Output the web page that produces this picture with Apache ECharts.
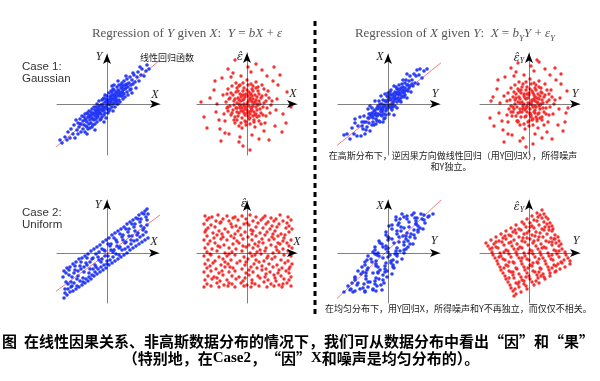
<!DOCTYPE html>
<html><head><meta charset="utf-8">
<script src="https://cdn.jsdelivr.net/npm/echarts@6.0.0/dist/echarts.min.js"></script>
<style>html,body{margin:0;padding:0;background:#fff}#c{width:600px;height:381px}</style>
</head><body><div id="c"></div>
<script>
// ---------- DATA (units: axis units) ----------
// Case 1, Gaussian: Y vs X
const gaussYonX = [
[-4.5,-3.9],[-4.2,-3.3],[-4.0,-3.6],[-3.9,-2.8],[-3.7,-3.4],[-3.6,-2.5],[-3.4,-3.0],[-3.3,-2.1],[-3.2,-3.4],[-3.0,-2.6],[-2.9,-1.9],[-2.9,-3.0],[-2.8,-2.3],[-2.7,-1.5],[-2.6,-2.8],[-2.6,-2.0],[-2.5,-1.2],[-2.4,-2.5],[-2.4,-1.7],[-2.3,-2.1],[-2.2,-1.0],[-2.2,-2.8],[-2.1,-1.5],[-2.1,-2.2],[-2.0,-1.8],[-2.0,-0.9],[-1.9,-2.5],[-1.9,-1.3],[-1.8,-2.0],[-1.8,-0.7],[-1.7,-1.6],[-1.7,-2.4],[-1.6,-1.1],[-1.6,-1.9],[-1.5,-0.5],[-1.5,-1.4],[-1.4,-2.1],[-1.4,-0.9],[-1.3,-1.6],[-1.3,-0.3],[-1.2,-1.2],[-1.2,-2.0],[-1.1,-0.7],[-1.1,-1.5],[-1.0,0.0],[-1.0,-1.0],[-1.0,-1.8],[-0.9,-0.4],[-0.9,-1.3],[-0.8,-0.8],[-0.8,0.3],[-0.7,-1.6],[-0.7,-0.2],[-0.6,-1.0],[-0.6,-0.5],[-0.5,0.4],[-0.5,-1.3],[-0.4,-0.7],[-0.4,0.0],[-0.3,-1.1],[-0.3,0.6],[-0.2,-0.3],[-0.2,-0.9],[-0.1,0.2],[-0.1,-1.4],[0.0,-0.5],[0.0,0.8],[0.0,-0.1],[0.1,0.4],[0.1,-0.9],[0.2,1.1],[0.2,0.0],[0.3,-0.5],[0.3,0.7],[0.4,0.2],[0.4,1.3],[0.5,-0.3],[0.5,0.9],[0.6,0.4],[0.6,-0.7],[0.7,1.4],[0.7,0.1],[0.8,0.8],[0.8,-0.3],[0.9,1.2],[0.9,0.5],[1.0,1.7],[1.0,0.0],[1.1,0.9],[1.1,1.4],[1.2,0.4],[1.2,1.9],[1.3,1.1],[1.3,0.2],[1.4,1.6],[1.4,0.8],[1.5,2.1],[1.5,1.2],[1.6,0.5],[1.6,1.8],[1.7,1.0],[1.7,2.3],[1.8,1.5],[1.8,0.7],[1.9,1.9],[2.0,1.2],[2.0,2.5],[2.1,1.7],[2.1,0.9],[2.2,2.1],[2.3,1.4],[2.3,2.7],[2.4,1.9],[2.5,2.4],[2.5,1.1],[2.6,2.0],[2.7,2.9],[2.8,2.2],[2.9,1.6],[3.0,2.7],[3.1,3.2],[3.2,2.3],[3.4,2.9],[3.5,3.5],[3.7,2.8],[3.9,3.3],[4.0,3.9],[4.2,3.5],[-3.1,-1.6],[2.6,3.1],[-1.2,-2.6],[1.1,2.3],[-0.3,-1.8],[0.5,1.8],[-2.0,-3.0],[3.3,3.7],[-4.7,-3.6],[1.9,2.8],
[-1.3,-1.0],[-0.8,-0.6],[-0.4,-0.3],[0.1,0.1],[0.5,0.5],[0.9,0.7],[1.3,1.0],[-1.0,-0.6],[-0.5,-0.6],[0.2,0.4],[0.6,0.9],[1.0,1.1],[-1.5,-1.0],[-0.2,0.2],[0.3,0.1],[0.8,0.4],[1.6,1.4],[-0.9,-1.1],[-0.1,-0.3],[0.4,0.6],[1.2,0.8],[-1.7,-1.2],[-0.6,-0.1],[0.0,0.3],[0.7,0.6],[1.5,1.6],[-2.2,-1.6],[-1.1,-0.9],[0.3,-0.1],[1.9,1.6],
[-1.8,-1.3],[-1.6,-0.8],[-1.4,-1.5],[-1.2,-0.6],[-1.0,-1.3],[-0.8,-0.2],[-0.7,-0.9],[-0.5,-0.1],[-0.3,-0.6],[-0.1,0.5],[0.1,-0.5],[0.3,0.3],[0.5,1.2],[0.6,0.0],[0.8,1.0],[1.0,0.3],[1.2,1.3],[1.4,1.9],[1.6,1.1],[1.8,1.9],[-2.3,-1.3],[-2.0,-2.3],[-1.5,-2.3],[-1.1,-0.3],[-0.6,-1.5],[-0.2,0.9],[0.2,-0.7],[0.7,1.9],[1.1,0.0],[2.0,2.0],[-0.9,-0.9],[-0.3,-0.4],[0.4,0.8],[0.9,0.2],[1.5,0.8],[-1.9,-1.0],[-0.4,0.5],[0.6,1.5],[2.4,1.5],[-2.7,-2.0]
];
// Case 1, Gaussian: residual vs X
const gaussResOnX = [
[0.1,0.2],[-0.3,0.5],[0.6,-0.2],[-0.7,-0.4],[0.2,-0.8],[-0.1,-0.3],[0.9,0.4],[-0.5,0.9],[0.4,1.0],[-1.0,0.1],[0.7,-0.8],[-0.2,-1.1],[1.1,-0.1],[-0.8,-0.9],[0.3,0.6],[-0.6,0.3],[0.0,-0.6],[0.5,0.2],[-0.4,-0.7],[0.8,0.9],[-0.9,0.6],[0.2,1.2],[-1.1,-0.4],[1.0,-0.6],[-0.3,0.0],[0.4,-0.4],[-0.6,-0.1],[0.1,0.8],[0.6,0.5],[-0.2,-0.5],[1.2,0.3],[-0.7,1.0],[0.3,-1.0],[-1.0,-0.8],[0.9,-0.3],[-0.4,0.4],[0.0,0.0],[0.5,-0.6],[-0.8,0.0],[0.7,0.1],[-0.1,1.0],[0.2,-0.2],[-0.5,-0.4],[1.0,0.7],[-1.2,0.5],[0.4,0.4],[-0.3,-0.9],[0.8,-1.1],[-0.6,0.7],[0.1,-1.2],
[1.5,0.8],[-1.6,1.1],[2.0,-0.4],[-1.9,-0.7],[0.6,1.8],[-0.4,2.1],[1.2,-1.7],[-1.3,-1.6],[2.2,0.6],[-2.1,0.2],[0.3,-2.0],[-0.8,-2.2],[1.7,1.5],[-1.5,1.8],[1.9,-1.2],[-2.3,-1.0],[0.9,2.2],[-1.0,1.6],[1.4,-0.9],[-1.7,-0.2],[2.4,-0.1],[-0.2,-1.7],[1.1,1.3],[-1.2,-1.3],[0.0,2.4],[1.6,-0.3],[-2.0,1.0],[0.7,-1.6],[-0.6,-1.9],[2.1,1.3],[-1.8,0.5],[1.3,0.0],[-1.4,-0.6],[0.5,1.5],[-0.9,1.3],[1.8,-1.9],[-2.2,-1.7],[0.8,-2.3],[-0.3,1.6],[1.5,1.9],[-1.1,2.1],[2.3,-0.9],[-2.4,0.9],[0.2,-1.5],[-0.5,-2.4],[1.0,-1.3],[-1.6,-1.1],[1.9,0.3],[-1.3,0.3],[0.4,2.0],[-0.7,1.9],[1.2,1.0],[-2.0,-0.4],[0.6,-1.2],[-1.0,-1.6],[2.5,0.3],[-0.1,-2.1],[1.4,-2.0],[-1.9,1.5],[0.9,1.6],
[3.0,0.5],[-3.1,-0.8],[2.6,2.3],[-2.5,2.6],[2.8,-2.2],[-2.7,-2.5],[0.4,3.2],[-0.7,-3.3],[3.6,-1.0],[-3.7,0.6],[1.5,3.4],[-1.4,3.1],[1.2,-3.5],[-1.8,-3.0],[4.0,1.2],[-4.3,-1.3],[0.9,4.0],[-0.4,-4.2],[3.3,2.9],[-3.2,2.3],[2.2,-3.6],[-2.6,-3.7],[4.4,-0.3],[-4.6,0.2],[1.0,5.3],[-1.2,4.4],[0.3,-4.6],[2.0,2.8],[-2.2,-2.9],[3.5,-2.8],[-3.3,1.4],[2.7,3.7],[-1.9,3.5],[3.9,-1.9],[-4.0,-2.4],[0.1,3.7],[-0.8,-3.8],[2.9,-0.6],[-3.0,0.0],[1.7,-2.7],[-1.6,2.7],[3.1,1.9],[-2.8,-1.6],[0.5,-3.1],[-0.6,2.8],
[0.5,0.8],[-0.8,0.4],[1.3,-0.5],[-1.3,-0.1],[0.0,1.4],[0.3,-1.4],[-0.5,-1.4],[1.4,0.6],[-1.4,0.9],[0.9,-1.0],[-0.9,-1.2],[0.6,1.3],[-0.2,0.7],[0.2,0.4],[-0.6,-0.7],[1.6,-1.1],[-1.7,0.6],[0.8,0.2],[-0.3,-0.2],[0.0,-0.9],[1.1,1.7],[-1.1,1.2],[1.7,0.1],[-1.5,-0.9],[0.4,-0.7],[-0.4,1.3],[0.7,-1.8],[-0.8,1.8],[1.9,0.9],[-1.9,-0.3],[0.1,1.9],[-0.1,-1.8],[1.2,-1.2],[-1.2,-1.9],[0.5,-0.3],[-0.7,-0.2],[0.3,1.0],[-0.3,0.9],[1.0,0.0],[-1.0,-0.4]
];
// Case 1, Gaussian: X vs Y (reverse direction)
const gaussXonY = [
[-4.1,-3.0],[-3.8,-3.5],[-3.6,-2.4],[-3.4,-3.0],[-3.3,-1.9],[-3.1,-3.2],[-3.0,-2.2],[-2.8,-1.3],[-2.7,-3.2],[-2.6,-1.8],[-2.5,-2.5],[-2.4,-1.2],[-2.3,-3.0],[-2.2,-1.8],[-2.1,-2.3],[-2.0,-0.5],[-1.9,-1.9],[-1.9,-1.0],[-1.8,-2.7],[-1.7,-1.2],[-1.6,-2.1],[-1.6,-0.4],[-1.5,-1.4],[-1.4,-0.7],[-1.4,-2.1],[-1.3,0.3],[-1.2,-1.5],[-1.2,-0.9],[-1.1,-1.7],[-1.0,-0.2],[-1.0,-1.1],[-0.9,0.3],[-0.8,-1.8],[-0.8,-0.3],[-0.7,-1.1],[-0.6,0.0],[-0.6,-0.5],[-0.5,-1.8],[-0.5,0.4],[-0.4,-1.0],[-0.3,-0.1],[-0.3,1.0],[-0.2,-1.1],[-0.2,0.3],[-0.1,-0.5],[0.0,0.7],[0.0,-0.2],[0.1,-1.0],[0.1,0.4],[0.2,1.2],[0.3,-0.4],[0.3,0.4],[0.4,-0.6],[0.5,1.0],[0.5,0.1],[0.6,1.8],[0.7,-0.2],[0.7,0.8],[0.8,0.5],[0.9,1.5],[0.9,-0.4],[1.0,1.2],[1.1,0.4],[1.1,1.9],[1.2,1.0],[1.3,0.2],[1.3,1.6],[1.4,0.8],[1.5,2.4],[1.5,1.4],[1.6,0.7],[1.7,2.1],[1.7,1.3],[1.8,2.4],[1.9,0.6],[1.9,1.9],[2.0,1.3],[2.1,2.3],[2.2,1.8],[2.2,2.8],[2.3,1.2],[2.4,2.4],[2.5,1.8],[2.6,3.0],[2.7,2.1],[2.8,2.8],[3.0,2.0],[3.1,2.9],[3.2,3.5],[3.4,2.6],[3.6,3.3],[3.9,3.5],
[-1.3,-0.6],[-0.9,-1.0],[-0.4,-0.2],[0.2,0.6],[0.6,0.3],[1.0,0.6],[-0.7,-0.5],[-0.1,0.2],[0.4,0.0],[0.9,1.0],[-1.6,-1.2],[-0.2,-0.7],[0.3,0.9],[1.4,1.2],[-1.1,-1.2],[-0.5,-0.3],[0.0,0.4],[0.7,0.5],[1.2,1.4],[-1.9,-1.4],[-0.6,-0.8],[0.1,-0.3],[0.5,0.6],[1.7,1.6],[-2.4,-1.8],[-0.3,0.3],[0.8,1.1],[-1.0,-0.5],[1.1,0.9],[2.0,1.9],
[-1.8,-0.2],[1.9,3.0],[0.6,-1.1],[-0.7,0.8],[2.9,3.4],[-3.3,-1.5],[-4.4,-3.1],
[-1.8,-1.0],[-1.5,-1.8],[-1.3,-1.1],[-1.1,-0.4],[-0.9,-1.7],[-0.7,-0.7],[-0.5,-0.6],[-0.3,-1.4],[-0.1,0.8],[0.1,-0.1],[0.3,1.4],[0.5,-0.3],[0.7,1.2],[0.9,0.2],[1.1,1.1],[1.3,0.6],[1.5,1.7],[1.7,0.9],[1.9,1.4],[2.1,1.6],[-2.2,-2.6],[-2.0,-1.4],[-1.6,-0.9],[-1.2,-2.0],[-0.8,0.0],[-0.4,-1.5],[0.0,1.1],[0.4,-0.2],[0.8,1.7],[1.2,0.3],[-1.4,-1.0],[-0.6,-1.2],[0.2,0.9],[1.0,1.5],[1.6,1.1],[-2.6,-2.2],[2.4,2.0],[-0.2,-0.4],[0.6,0.8],[1.4,2.0]
];
// Case 1, Gaussian: residual vs Y (reverse direction)
const gaussResOnY = [
[0.2,0.1],[-0.4,0.6],[0.7,-0.3],[-0.6,-0.5],[0.1,-0.9],[-0.2,-0.2],[1.0,0.5],[-0.5,1.0],[0.5,0.9],[-1.1,0.2],[0.6,-0.9],[-0.3,-1.2],[1.2,0.0],[-0.9,-0.8],[0.3,0.4],[-0.7,0.2],[0.1,-0.5],[0.6,0.3],[-0.4,-0.6],[0.9,1.0],[-1.0,0.7],[0.3,1.3],[-1.2,-0.3],[1.1,-0.5],[-0.1,0.1],[0.4,-0.3],[-0.5,0.0],[0.0,0.9],[0.8,0.6],[-0.3,-0.4],[1.3,0.4],[-0.8,1.1],[0.2,-1.1],[-1.1,-0.9],[1.0,-0.2],[-0.3,0.5],[0.1,0.0],[0.6,-0.6],[-0.9,0.1],[0.8,0.2],[0.0,1.1],[0.3,-0.1],[-0.6,-0.3],[1.1,0.8],[-1.3,0.6],[0.5,0.5],[-0.2,-0.8],[0.9,-1.0],[-0.5,0.8],[0.2,-1.3],
[1.6,0.9],[-1.5,1.2],[2.1,-0.3],[-1.8,-0.8],[0.7,1.9],[-0.3,2.2],[1.3,-1.6],[-1.2,-1.7],[2.3,0.7],[-2.2,0.3],[0.4,-2.1],[-0.9,-2.1],[1.8,1.4],[-1.4,1.9],[2.0,-1.1],[-2.2,-1.1],[1.0,2.3],[-1.1,1.5],[1.5,-0.8],[-1.6,-0.3],[2.5,0.0],[-0.1,-1.8],[1.2,1.2],[-1.3,-1.2],[0.1,2.5],[1.7,-0.4],[-2.1,1.1],[0.8,-1.5],[-0.5,-2.0],[2.2,1.4],[-1.9,0.4],[1.4,0.1],[-1.5,-0.5],[0.6,1.6],[-0.8,1.4],[1.9,-1.8],[-2.1,-1.8],[0.9,-2.4],[-0.2,1.7],[1.6,2.0],[-1.0,2.2],[2.4,-1.0],[-2.5,0.8],[0.3,-1.6],[-0.4,-2.5],[1.1,-1.4],[-1.7,-1.2],[2.0,0.4],[-1.4,0.4],[0.5,2.1],[-0.6,2.0],[1.3,1.1],[-2.0,-0.5],[0.7,-1.3],[-1.1,-1.7],[2.6,0.4],[0.0,-2.2],[1.5,-2.1],[-1.8,1.6],[1.0,1.7],
[3.1,0.6],[-3.0,-0.9],[2.7,2.4],[-2.4,2.7],[2.9,-2.1],[-2.6,-2.6],[0.5,3.3],[-0.6,-3.4],[3.7,-0.9],[-3.6,0.7],[1.6,3.5],[-1.3,3.2],[1.3,-3.4],[-1.7,-3.1],[3.8,1.3],[-3.9,-1.4],[1.0,4.2],[-0.3,-4.3],[3.2,3.0],[-3.1,2.4],[2.3,-3.5],[-2.5,-3.8],[3.9,-0.4],[-3.8,0.3],[0.8,4.4],[-1.1,4.1],[0.4,-4.0],[2.1,2.9],[-2.1,-3.0],[3.4,-2.7],[-3.2,1.5],[2.6,3.6],[-1.8,3.6],[3.6,-1.8],[-3.5,-2.2],[0.2,3.8],[-0.9,-3.7],[3.0,-0.5],[-2.9,0.1],[1.8,-2.8],[-1.5,2.8],[3.2,2.0],[-2.7,-1.7],[0.6,-3.0],[-0.5,2.9],
[0.6,0.7],[-0.9,0.5],[1.4,-0.4],[-1.4,0.0],[0.1,1.5],[0.4,-1.5],[-0.4,-1.3],[1.5,0.7],[-1.3,1.0],[1.0,-0.9],[-0.8,-1.3],[0.7,1.4],[-0.1,0.6],[0.3,0.3],[-0.7,-0.8],[1.7,-1.0],[-1.6,0.7],[0.9,0.1],[-0.2,-0.3],[0.1,-1.0],[1.2,1.6],[-1.0,1.3],[1.8,0.2],[-1.6,-0.8],[0.5,-0.8],[-0.3,1.4],[0.8,-1.7],[-0.7,1.7],[2.0,1.0],[-1.8,-0.2],[0.2,2.0],[0.0,-1.7],[1.3,-1.3],[-1.1,-1.8],[0.6,-0.2],[-0.6,-0.1],[0.4,1.1],[-0.2,1.0],[1.1,-0.1],[-0.9,-0.5]
];
// Case 2, Uniform: Y vs X
const unifYonX = [
[-4.3,-4.5],[-4.2,-3.6],[-4.4,-2.4],[-4.3,-1.8],[-4.0,-4.2],[-3.9,-3.1],[-4.1,-2.0],[-4.0,-1.5],[-3.7,-3.9],[-3.6,-2.9],[-3.8,-2.2],[-3.7,-1.4],[-3.4,-3.8],[-3.5,-3.3],[-3.3,-2.0],[-3.4,-1.1],[-3.1,-3.6],[-3.0,-2.6],[-3.2,-1.7],[-3.1,-0.9],[-2.8,-3.4],[-2.9,-2.3],[-2.7,-1.3],[-2.8,-0.6],[-2.5,-3.2],[-2.4,-2.5],[-2.6,-1.6],[-2.5,-0.5],[-2.2,-3.0],[-2.3,-1.9],[-2.1,-1.0],[-2.2,-0.3],[-1.9,-2.8],[-1.8,-2.0],[-2.0,-1.2],[-1.9,-0.1],[-1.6,-2.6],[-1.7,-1.6],[-1.5,-0.6],[-1.6,0.2],[-1.3,-2.3],[-1.2,-1.2],[-1.4,-0.5],[-1.3,0.4],[-1.0,-2.1],[-1.1,-1.4],[-0.9,-0.4],[-1.0,0.6],[-0.7,-1.9],[-0.6,-0.9],[-0.8,0.1],[-0.7,0.8],[-0.4,-1.7],[-0.5,-0.6],[-0.3,0.3],[-0.4,1.1],[-0.1,-1.5],[0.0,-0.8],[-0.2,0.2],[-0.1,1.3],[0.2,-1.2],[0.1,-0.3],[0.3,0.7],[0.2,1.5],[0.5,-1.0],[0.6,0.1],[0.4,0.9],[0.5,1.8],[0.8,-0.8],[0.7,0.3],[0.9,1.3],[0.8,2.0],[1.1,-0.6],[1.2,0.5],[1.0,1.1],[1.1,2.2],[1.4,-0.4],[1.3,0.6],[1.5,1.6],[1.4,2.4],[1.7,-0.2],[1.8,1.0],[1.6,1.8],[1.7,2.6],[2.0,0.0],[1.9,1.1],[2.1,2.1],[2.0,2.9],[2.3,0.3],[2.4,1.3],[2.2,2.4],[2.3,3.1],[2.6,0.5],[2.5,1.7],[2.7,2.6],[2.6,3.3],[2.9,0.7],[3.0,1.8],[2.8,2.9],[2.9,3.5],[3.2,0.9],[3.1,2.0],[3.3,3.1],[3.2,3.8],[3.5,1.1],[3.6,2.3],[3.4,3.4],[3.5,4.0],[3.8,1.3],[3.7,2.5],[3.9,3.6],[3.8,4.2],[4.1,1.5],[4.0,2.8],[4.1,3.9],[4.0,4.4],
[-4.2,-4.0],[-4.1,-2.9],[-3.9,-3.6],[-3.8,-1.7],[-3.6,-3.4],[-3.5,-2.4],[-3.3,-3.0],[-3.2,-1.3],[-3.0,-3.3],[-2.9,-1.8],[-2.7,-2.8],[-2.6,-0.9],[-2.4,-2.9],[-2.3,-1.4],[-2.1,-2.6],[-2.0,-0.5],[-1.8,-2.4],[-1.7,-0.9],[-1.5,-2.2],[-1.4,-1.6],[-1.2,-1.9],[-1.1,-0.1],[-0.9,-1.6],[-0.8,-0.7],[-0.6,-1.4],[-0.5,0.4],[-0.3,-1.2],[-0.2,-0.3],[0.0,-1.1],[0.1,0.9],[0.3,-0.7],[0.4,0.3],[0.6,-0.4],[0.7,1.5],[0.9,-0.1],[1.0,0.7],[1.2,-0.2],[1.3,1.9],[1.5,0.3],[1.6,1.3],[1.8,0.4],[1.9,2.4],[2.1,0.6],[2.2,1.7],[2.4,0.9],[2.5,2.9],[2.7,1.2],[2.8,2.2],[3.0,1.3],[3.1,3.4],[3.3,1.6],[3.4,2.7],[3.6,1.8],[3.7,3.9],[3.9,2.1],[4.0,3.3]
];
// Case 2, Uniform: residual vs X
const unifResOnX = [
[-4.2,3.7],[-3.5,3.6],[-2.9,3.8],[-2.0,3.7],[-1.4,3.5],[-0.5,3.7],[0.3,3.8],[0.9,3.6],[1.8,3.7],[2.4,3.5],[3.3,3.8],[4.1,3.6],
[-4.0,3.3],[-3.1,3.2],[-2.4,3.4],[-1.8,3.2],[-0.9,3.3],[-0.1,3.4],[0.6,3.2],[1.4,3.3],[2.1,3.1],[2.9,3.4],[3.6,3.2],[4.4,3.3],
[-4.3,2.9],[-3.6,2.8],[-2.7,3.0],[-1.6,2.9],[-1.1,2.7],[-0.3,2.9],[0.2,2.8],[1.1,3.0],[1.9,2.9],[2.5,2.7],[3.2,2.9],[4.0,3.0],
[-3.9,2.5],[-3.2,2.6],[-2.2,2.4],[-1.5,2.6],[-0.7,2.5],[0.4,2.3],[0.9,2.6],[1.6,2.5],[2.3,2.4],[3.0,2.6],[3.9,2.5],[4.5,2.4],
[-4.2,2.1],[-3.4,2.0],[-2.8,2.2],[-1.9,2.1],[-1.2,1.9],[-0.2,2.1],[0.6,2.2],[1.3,2.0],[2.0,2.1],[2.8,2.2],[3.4,1.9],[4.2,2.1],
[-4.0,1.7],[-3.0,1.8],[-2.4,1.6],[-1.6,1.7],[-0.6,1.8],[0.1,1.6],[0.9,1.7],[1.8,1.8],[2.5,1.6],[3.1,1.7],[3.8,1.8],
[-4.3,1.3],[-3.7,1.2],[-2.6,1.4],[-2.0,1.3],[-1.0,1.2],[-0.4,1.4],[0.5,1.3],[1.2,1.1],[2.2,1.3],[2.7,1.4],[3.6,1.2],[4.4,1.3],
[-3.9,0.9],[-3.2,1.0],[-2.3,0.8],[-1.4,0.9],[-0.8,1.0],[0.2,0.8],[0.8,0.9],[1.6,1.0],[2.4,0.8],[3.3,0.9],[4.0,1.0],
[-4.2,0.5],[-3.5,0.4],[-2.7,0.6],[-1.8,0.5],[-1.1,0.4],[-0.1,0.6],[0.6,0.5],[1.3,0.3],[1.9,0.5],[2.9,0.6],[3.6,0.4],[4.5,0.5],
[-4.0,0.1],[-3.0,0.2],[-2.2,0.0],[-1.5,0.1],[-0.5,0.2],[0.3,0.0],[1.0,0.1],[1.8,0.2],[2.6,0.0],[3.2,0.1],[4.1,0.2],
[-4.3,-0.3],[-3.6,-0.2],[-2.8,-0.4],[-2.0,-0.3],[-1.2,-0.2],[-0.3,-0.4],[0.5,-0.3],[1.4,-0.1],[2.1,-0.3],[2.8,-0.4],[3.7,-0.2],[4.4,-0.3],
[-3.9,-0.7],[-3.2,-0.8],[-2.4,-0.6],[-1.6,-0.7],[-0.7,-0.8],[0.1,-0.6],[0.9,-0.7],[1.7,-0.8],[2.5,-0.6],[3.4,-0.7],[4.1,-0.8],
[-4.2,-1.1],[-3.4,-1.0],[-2.6,-1.2],[-1.9,-1.1],[-1.0,-1.0],[-0.2,-1.2],[0.7,-1.1],[1.2,-0.9],[2.2,-1.1],[3.0,-1.2],[3.8,-1.0],[4.5,-1.1],
[-4.0,-1.5],[-3.1,-1.6],[-2.2,-1.4],[-1.4,-1.5],[-0.5,-1.6],[0.4,-1.4],[1.0,-1.5],[1.9,-1.6],[2.6,-1.4],[3.5,-1.5],[4.2,-1.6],
[-4.3,-1.9],[-3.6,-1.8],[-2.8,-2.0],[-1.8,-1.9],[-1.2,-1.8],[-0.1,-2.0],[0.6,-1.9],[1.5,-1.7],[2.3,-1.9],[3.1,-2.0],[3.9,-1.8],
[-3.9,-2.3],[-3.3,-2.4],[-2.4,-2.2],[-1.5,-2.3],[-0.8,-2.4],[0.2,-2.2],[1.1,-2.3],[1.8,-2.4],[2.7,-2.2],[3.4,-2.3],[4.4,-2.4],
[-4.2,-2.7],[-3.5,-2.6],[-2.7,-2.8],[-2.0,-2.7],[-1.1,-2.6],[-0.4,-2.8],[0.5,-2.7],[1.3,-2.5],[2.1,-2.7],[2.9,-2.8],[3.7,-2.6],[4.2,-2.7],
[-4.0,-3.1],[-3.0,-3.0],[-2.3,-3.2],[-1.5,-3.1],[-0.6,-3.0],[0.0,-3.2],[0.8,-3.1],[1.7,-2.9],[2.4,-3.1],[3.2,-3.2],[4.0,-3.0],
[-4.3,-3.4],[-3.6,-3.3],[-2.8,-3.4],[-1.9,-3.3],[-1.2,-3.4],[-0.3,-3.3],[0.4,-3.4],[1.2,-3.3],[2.0,-3.4],[2.7,-3.3],[3.5,-3.4],[4.4,-3.3],
[-3.8,3.5],[-2.6,3.1],[-1.2,3.6],[0.0,3.0],[1.6,3.5],[2.7,3.2],[4.2,2.7],[-4.1,2.3],[-2.5,1.9],[-0.9,2.2],[0.5,1.9],[2.6,1.9],[3.7,1.5],[-3.3,1.5],[-1.3,1.5],[1.5,1.4],[3.1,1.0],[-2.9,0.7],[-0.4,0.7],[1.1,0.7],[4.2,0.7],[-3.7,-0.1],[-1.8,-0.1],[0.8,-0.2],[3.0,0.3],[-2.2,-0.9],[-0.1,-0.9],[2.0,-0.5],[4.3,-1.4],[-3.7,-1.3],[-1.7,-1.4],[1.5,-1.3],[3.2,-1.7],[-2.5,-1.8],[0.2,-1.7],[2.8,-2.5],[-3.0,-2.5],[-0.2,-2.5],[1.9,-2.1],[-1.8,-3.0],[0.5,-3.0],[3.6,-3.1],[4.2,-2.0]
];
// Case 2, Uniform: X vs Y (reverse direction)
const unifXonY = [
[-4.4,-3.9],[-3.3,-3.8],[-2.3,-3.9],[-1.2,-3.8],[-3.7,-3.6],[-2.5,-3.5],[-1.5,-3.6],[-0.6,-3.7],[-4.0,-3.3],[-3.1,-3.2],[-2.0,-3.4],[-1.1,-3.3],[-3.0,-3.0],[-2.0,-2.9],[-1.3,-3.1],[-0.4,-3.0],[-3.3,-2.7],[-2.2,-2.6],[-1.3,-2.8],[-0.5,-2.7],[-3.3,-2.4],[-2.2,-2.3],[-1.2,-2.5],[-0.1,-2.4],[-2.7,-2.1],[-1.5,-2.0],[-0.5,-2.2],[0.4,-2.1],[-3.0,-1.8],[-2.1,-1.7],[-1.0,-1.9],[-0.1,-1.8],[-2.0,-1.5],[-1.0,-1.4],[-0.3,-1.6],[0.6,-1.5],[-2.3,-1.2],[-1.2,-1.1],[-0.3,-1.3],[0.5,-1.2],[-2.3,-0.9],[-1.2,-0.8],[-0.2,-1.0],[0.9,-0.9],[-1.7,-0.6],[-0.5,-0.5],[0.5,-0.7],[1.4,-0.6],[-2.0,-0.3],[-1.1,-0.2],[0.0,-0.4],[0.9,-0.3],[-1.0,0.0],[0.0,0.1],[0.7,-0.1],[1.6,0.0],[-1.3,0.3],[-0.2,0.4],[0.8,0.2],[1.6,0.3],[-1.3,0.6],[-0.2,0.7],[0.9,0.5],[2.0,0.6],[-0.6,0.9],[0.6,1.0],[1.6,0.8],[2.5,0.9],[-0.9,1.2],[0.0,1.3],[1.1,1.1],[2.0,1.2],[0.1,1.5],[1.1,1.6],[1.8,1.4],[2.7,1.5],[-0.2,1.8],[0.9,1.9],[1.8,1.7],[2.6,1.8],[-0.2,2.1],[0.9,2.2],[1.9,2.0],[3.0,2.1],[0.4,2.4],[1.6,2.5],[2.6,2.3],[3.5,2.4],[0.1,2.7],[1.0,2.8],[2.1,2.6],[3.0,2.7],[1.1,3.0],[2.1,3.1],[2.8,2.9],[3.7,3.0],[0.8,3.3],[1.9,3.4],[2.8,3.2],[3.6,3.3],[0.8,3.6],[1.9,3.7],[2.9,3.5],[4.0,3.6],[1.4,3.9],[2.6,4.0],[3.6,3.8],[4.5,3.9],
[-3.8,-3.7],[-2.3,-3.8],[-1.5,-3.7],[-2.4,-3.1],[-0.7,-3.2],[-3.3,-2.5],[-0.9,-2.6],[-2.5,-1.9],[-1.0,-2.0],[-0.3,-1.9],[-1.2,-1.3],[0.5,-1.4],[-2.1,-0.7],[0.3,-0.8],[-1.3,-0.1],[0.2,-0.2],[0.9,-0.1],[0.0,0.5],[1.8,0.4],[-0.8,1.0],[1.6,1.1],[0.0,1.6],[1.5,1.7],[2.2,1.6],[1.3,2.2],[3.0,2.3],[0.4,2.8],[2.8,2.9],[1.2,3.4],[2.7,3.5],[3.4,3.4],[2.4,3.8],[4.1,3.7],
[-3.5,-3.9],[-2.8,-3.6],[-1.8,-2.9],[-2.6,-1.4],[-1.6,-0.9],[-0.8,-1.7],[-1.5,0.1],[0.3,-1.0],[-0.5,0.6],[1.2,0.2],[0.4,1.4],[2.2,0.9],[1.3,2.6],[2.3,1.9],[3.2,2.5],[1.6,3.6],[3.3,3.9],[-3.6,-3.0],[-2.2,-2.0],[-0.9,-0.3]
];
// Case 2, Uniform: residual vs Y (reverse direction)
const unifResOnY = [
[1.3,4.3],[0.8,4.0],[1.5,3.9],[0.3,3.7],[1.1,3.8],[1.7,3.6],[-0.2,3.4],[0.5,3.3],[1.3,3.5],[1.9,3.4],[-0.7,3.1],[0.1,3.0],[0.8,3.2],[1.5,3.1],[2.1,3.0],
[-1.3,2.8],[-0.5,2.9],[0.3,2.7],[1.0,2.8],[1.8,2.9],[2.3,2.7],[-1.8,2.5],[-1.0,2.4],[-0.3,2.6],[0.5,2.5],[1.3,2.4],[2.0,2.6],[2.4,2.4],
[-2.3,2.2],[-1.6,2.1],[-0.8,2.3],[0.0,2.2],[0.7,2.1],[1.5,2.3],[2.3,2.2],[-2.8,1.9],[-2.0,1.8],[-1.3,2.0],[-0.5,1.9],[0.3,1.8],[1.1,2.0],[1.8,1.9],[2.6,1.8],
[-3.3,1.6],[-2.6,1.5],[-1.8,1.7],[-1.0,1.6],[-0.2,1.5],[0.6,1.7],[1.4,1.6],[2.2,1.5],[2.9,1.6],
[-3.8,1.3],[-3.0,1.2],[-2.3,1.4],[-1.5,1.3],[-0.7,1.2],[0.1,1.4],[0.9,1.3],[1.7,1.2],[2.5,1.4],[3.0,1.2],
[-4.3,1.0],[-3.5,0.9],[-2.7,1.1],[-2.0,1.0],[-1.2,0.9],[-0.4,1.1],[0.4,1.0],[1.2,0.9],[2.0,1.1],[2.7,1.0],[3.2,0.9],
[-4.1,0.7],[-3.3,0.6],[-2.5,0.8],[-1.7,0.7],[-0.9,0.6],[-0.1,0.8],[0.7,0.7],[1.5,0.6],[2.3,0.8],[3.0,0.7],
[-3.9,0.4],[-3.1,0.5],[-2.3,0.3],[-1.5,0.4],[-0.7,0.5],[0.1,0.3],[0.9,0.4],[1.7,0.5],[2.5,0.3],[3.3,0.4],
[-3.7,0.1],[-2.9,0.0],[-2.1,0.2],[-1.3,0.1],[-0.5,0.0],[0.3,0.2],[1.1,0.1],[1.9,0.0],[2.7,0.2],[3.6,0.1],
[-3.6,-0.2],[-2.8,-0.3],[-2.0,-0.1],[-1.2,-0.2],[-0.4,-0.3],[0.4,-0.1],[1.2,-0.2],[2.0,-0.3],[2.8,-0.1],[3.7,-0.2],
[-3.4,-0.5],[-2.6,-0.6],[-1.8,-0.4],[-1.0,-0.5],[-0.2,-0.6],[0.6,-0.4],[1.4,-0.5],[2.2,-0.6],[3.0,-0.4],[3.9,-0.5],
[-3.2,-0.8],[-2.4,-0.7],[-1.6,-0.9],[-0.8,-0.8],[0.0,-0.7],[0.8,-0.9],[1.6,-0.8],[2.4,-0.7],[3.2,-0.9],[4.1,-0.8],
[-3.1,-1.1],[-2.3,-1.2],[-1.5,-1.0],[-0.7,-1.1],[0.1,-1.2],[0.9,-1.0],[1.7,-1.1],[2.5,-1.2],[3.3,-1.0],[4.1,-1.1],
[-2.9,-1.4],[-2.1,-1.3],[-1.3,-1.5],[-0.5,-1.4],[0.3,-1.3],[1.1,-1.5],[1.9,-1.4],[2.7,-1.3],[3.6,-1.4],
[-2.8,-1.7],[-2.0,-1.8],[-1.2,-1.6],[-0.4,-1.7],[0.4,-1.8],[1.2,-1.6],[2.0,-1.7],[2.7,-1.8],[3.1,-1.6],
[-2.6,-2.0],[-1.8,-1.9],[-1.0,-2.1],[-0.2,-2.0],[0.6,-1.9],[1.4,-2.1],[2.1,-2.0],[2.6,-1.9],
[-2.4,-2.3],[-1.6,-2.2],[-0.8,-2.4],[0.0,-2.3],[0.8,-2.2],[1.5,-2.4],[2.1,-2.3],
[-2.3,-2.6],[-1.5,-2.5],[-0.7,-2.7],[0.1,-2.6],[0.9,-2.5],[1.6,-2.6],
[-2.1,-2.9],[-1.3,-3.0],[-0.5,-2.8],[0.3,-2.9],[1.0,-3.0],[-1.9,-3.2],[-1.1,-3.1],[-0.3,-3.3],[0.5,-3.2],
[-1.8,-3.5],[-1.0,-3.4],[-0.2,-3.6],[-1.6,-3.8],[-0.8,-3.9],[-1.3,-4.1],[-1.5,-4.3],
[0.9,3.6],[0.1,2.6],[1.6,2.6],[-1.4,2.3],[-0.2,2.0],[2.0,2.3],[-2.4,1.7],[-0.6,1.5],[1.0,1.6],[2.6,1.4],[-3.3,1.1],[-1.8,1.1],[0.5,1.2],[2.3,1.1],[-3.7,0.5],[-1.1,0.4],[1.3,0.5],[3.0,0.2],[-2.5,0.1],[0.0,0.0],[2.3,-0.2],[-3.0,-0.4],[-0.7,-0.5],[1.0,-0.6],[3.5,-0.7],[-2.0,-0.9],[0.4,-1.0],[2.9,-1.1],[-2.5,-1.5],[-0.1,-1.5],[2.3,-1.5],[-1.6,-1.9],[1.0,-1.9],[-2.0,-2.5],[-0.3,-2.4],[1.2,-2.3],[-1.0,-2.9],[0.7,-2.8],[-1.4,-3.6],[-0.5,-3.1]
];
// fitted regression lines (two end points each)
const fitYonX_gauss = [[-5.1,-4.3],[5.3,4.4]];
const fitXonY_gauss = [[-5.3,-4.3],[5.4,4.2]];
const fitYonX_unif = [[-5.2,-3.9],[5.3,3.8]];
const fitXonY_unif = [[-6.0,-5.4],[5.4,5.4]];

// ---------- LAYOUT ----------
const PX = 10; // pixels per axis unit
const BLUE = '#2236f5', RED = '#f52828', FIT = '#f08080';
const panels = [
  {ox:107, oy:104, x:[-5.0,5.3], y:[-5.1,5.0], data:gaussYonX, color:BLUE, size:3.6, fit:fitYonX_gauss},
  {ox:247, oy:104, x:[-5.0,5.0], y:[-5.1,5.1], data:gaussResOnX, color:RED, size:3.4},
  {ox:388, oy:104, x:[-5.0,5.2], y:[-5.1,5.0], data:gaussXonY, color:BLUE, size:3.6, fit:fitXonY_gauss},
  {ox:529, oy:104, x:[-4.9,5.1], y:[-5.1,5.1], data:gaussResOnY, color:RED, size:3.4},
  {ox:107, oy:253, x:[-5.0,5.2], y:[-5.0,5.3], data:unifYonX, color:BLUE, size:3.6, fit:fitYonX_unif},
  {ox:247, oy:253, x:[-5.0,5.0], y:[-5.0,5.2], data:unifResOnX, color:RED, size:3.4},
  {ox:388, oy:253, x:[-5.0,5.2], y:[-5.0,5.3], data:unifXonY, color:BLUE, size:3.6, fit:fitXonY_unif},
  {ox:529, oy:253, x:[-4.9,5.1], y:[-5.0,5.3], data:unifResOnY, color:RED, size:3.4}
];

const axisCommon = {
  type:'value', z:5,
  axisLine:{show:true, onZero:true, symbol:['none','arrow'], symbolSize:[6,10], lineStyle:{color:'#000', width:0.5}},
  axisTick:{show:false}, axisLabel:{show:false}, splitLine:{show:false}
};

const grid = panels.map(p => ({
  show:false, containLabel:false, outerBoundsMode:'none',
  left: p.ox + p.x[0]*PX, top: p.oy - p.y[1]*PX,
  width: (p.x[1]-p.x[0])*PX, height: (p.y[1]-p.y[0])*PX
}));
const xAxis = panels.map((p,i) => Object.assign({}, axisCommon, {gridIndex:i, min:p.x[0], max:p.x[1]}));
const yAxis = panels.map((p,i) => Object.assign({}, axisCommon, {gridIndex:i, min:p.y[0], max:p.y[1]}));

const series = [];
panels.forEach((p,i) => {
  if (p.fit) series.push({type:'line', xAxisIndex:i, yAxisIndex:i, data:p.fit, symbol:'none', clip:false, silent:true, z:1,
    lineStyle:{color:FIT, width:1}});
  series.push({type:'scatter', xAxisIndex:i, yAxisIndex:i, data:p.data, symbol:'circle', symbolSize:p.size, silent:true, z:2,
    itemStyle:{color:p.color, opacity:0.95}});
});

// ---------- TEXT ----------
const SERIF = '"Liberation Serif", "DejaVu Serif", serif';
const CJK = '"Noto Sans CJK SC", sans-serif';
function T(text, x, y, style, align){
  return {text, left:x, top:y - style.lineHeight/2, textAlign:align||'center', padding:0, textStyle:style};
}
const mathStyle = {fontFamily:SERIF, fontSize:13, fontWeight:'normal', color:'#555', lineHeight:18, rich:{
  i:{fontFamily:SERIF, fontStyle:'italic', fontWeight:'normal', fontSize:13, color:'#555', lineHeight:18},
  s:{fontFamily:SERIF, fontStyle:'italic', fontWeight:'normal', fontSize:9, color:'#555', lineHeight:18, verticalAlign:'bottom'}}};
const axStyle = {fontFamily:SERIF, fontStyle:'italic', fontWeight:'normal', fontSize:12, color:'#222', lineHeight:14, rich:{
  e:{fontFamily:'"DejaVu Serif", serif', fontStyle:'italic', fontWeight:'normal', fontSize:11, color:'#222', lineHeight:14},
  s:{fontFamily:SERIF, fontStyle:'italic', fontWeight:'normal', fontSize:8, color:'#222', lineHeight:14, verticalAlign:'bottom'}}};
const caseStyle = {fontFamily:'"Liberation Sans", Arial, sans-serif', fontSize:11.5, fontWeight:'normal', color:'#333', lineHeight:14};
const noteStyle = {fontFamily:CJK, fontSize:9, fontWeight:'normal', color:'#222', lineHeight:12};
const capStyle = {fontFamily:CJK, fontSize:15, fontWeight:'bold', color:'#000', lineHeight:18, rich:{
  l:{fontFamily:SERIF, fontWeight:'bold', fontSize:15, color:'#000', lineHeight:18}}};

const titles = [
  T('Regression of {i|Y} given {i|X}:  {i|Y} = {i|bX} + {i|ε}', 187, 34, mathStyle),
  T('Regression of {i|X} given {i|Y}:  {i|X} = {i|b}{s|Y}{i|Y} + {i|ε}{s|Y}', 455, 34, mathStyle),
  T('Case 1:', 22, 67, caseStyle, 'left'), T('Gaussian', 22, 79, caseStyle, 'left'),
  T('Case 2:', 22, 213, caseStyle, 'left'), T('Uniform', 22, 225, caseStyle, 'left'),
  T('Y', 99, 57, axStyle), T('X', 155, 95, axStyle),
  T('{e|ε̂}', 240, 57, axStyle), T('X', 293, 94, axStyle),
  T('X', 380, 57, axStyle), T('Y', 435, 94, axStyle),
  T('{e|ε̂}{s|Y}', 519, 58, axStyle), T('Y', 575, 94, axStyle),
  T('Y', 98, 205, axStyle), T('X', 154, 242, axStyle),
  T('{e|ε̂}', 244, 204, axStyle), T('X', 297, 242, axStyle),
  T('X', 380, 206, axStyle), T('Y', 434, 241, axStyle),
  T('{e|ε̂}{s|Y}', 519, 207, axStyle), T('Y', 576, 241, axStyle),
  T('线性回归函数', 140, 58, noteStyle, 'left'),
  T('在高斯分布下，逆因果方向做线性回归（用Y回归X），所得噪声', 453, 156, noteStyle),
  T('和Y独立。', 451, 167, noteStyle),
  T('在均匀分布下，用Y回归X，所得噪声和Y不再独立，而仅仅不相关。', 325, 309, noteStyle, 'left'),
  T('图  在线性因果关系、非高斯数据分布的情况下，我们可从数据分布中看出“因”和“果”', 298, 341, capStyle),
  T('（特别地，在{l|Case2}，“因”{l|X}和噪声是均匀分布的）。', 301, 358, capStyle)
];

const chart = echarts.init(document.getElementById('c'), null, {renderer:'canvas'});
chart.setOption({
  animation:false,
  backgroundColor:'#fff',
  title: titles,
  grid, xAxis, yAxis, series,
  graphic:[{type:'line', silent:true, shape:{x1:315, y1:21, x2:315, y2:315},
    style:{stroke:'#000', lineWidth:3, lineDash:[5,4]}}]
});
</script>
</body></html>
